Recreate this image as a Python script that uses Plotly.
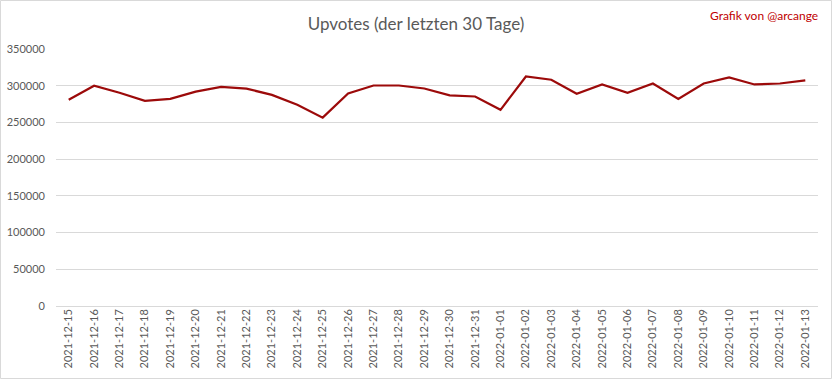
import plotly.graph_objects as go

dates = ["2021-12-15","2021-12-16","2021-12-17","2021-12-18","2021-12-19","2021-12-20",
         "2021-12-21","2021-12-22","2021-12-23","2021-12-24","2021-12-25","2021-12-26",
         "2021-12-27","2021-12-28","2021-12-29","2021-12-30","2021-12-31","2022-01-01",
         "2022-01-02","2022-01-03","2022-01-04","2022-01-05","2022-01-06","2022-01-07",
         "2022-01-08","2022-01-09","2022-01-10","2022-01-11","2022-01-12","2022-01-13"]
upvotes = [281000, 300000, 290500, 279500, 282000, 292000,
           298500, 296000, 287500, 274000, 256500, 289500,
           300300, 300300, 296200, 286800, 285300, 267200,
           312600, 308200, 289000, 301700, 290300, 303000,
           282100, 303000, 311200, 301700, 303000, 307200]
y_ticks = [0, 50000, 100000, 150000, 200000, 250000, 300000, 350000]

W, H = 832, 379
L, R, T, B = 56, 14, 49, 73
pw, ph = W - L - R, H - T - B

FONT = "Liberation Sans Narrow, Lato, sans-serif"

fig = go.Figure()
fig.add_trace(go.Scatter(x=dates, y=upvotes, mode="lines",
                         line=dict(color="#9c0a0a", width=2.2), hoverinfo="x+y"))

fig.update_layout(
    width=W, height=H,
    margin=dict(l=L, r=R, t=T, b=B, autoexpand=False),
    paper_bgcolor="white", plot_bgcolor="white",
    showlegend=False,
    font=dict(family=FONT, color="#595959", size=11),
    title=dict(text="Upvotes (der letzten 30 Tage)", x=0.5, xanchor="center",
               y=1 - 24 / H, yanchor="middle",
               font=dict(family=FONT, size=17, color="#595959")),
    xaxis=dict(type="category", tickangle=-90, showgrid=False, zeroline=False,
               showline=False, ticks="", automargin=False,
               tickfont=dict(size=11, color="#595959"),
               range=[-0.5, len(dates) - 0.5]),
    yaxis=dict(range=[0, 350000], tickvals=y_ticks, ticktext=[str(v) for v in y_ticks],
               showgrid=True, gridcolor="#d9d9d9", gridwidth=1, zeroline=True,
               zerolinecolor="#d9d9d9", zerolinewidth=1, showline=False, ticks="",
               automargin=False, ticklabelstandoff=10,
               tickfont=dict(size=11, color="#595959")),
    annotations=[dict(text="Grafik von @arcange", xref="paper", yref="paper",
                      x=(W - 12 - L) / pw, y=1 + (T - 15) / ph, xanchor="right",
                      yanchor="middle", showarrow=False,
                      font=dict(family=FONT, size=12, color="#c00000"))],
    shapes=[dict(type="rect", xref="paper", yref="paper", layer="above",
                 x0=(0.5 - L) / pw, x1=(W - 0.5 - L) / pw,
                 y0=-(B - 0.5) / ph, y1=1 + (T - 0.5) / ph,
                 line=dict(color="#d9d9d9", width=1))],
)

fig.write_html("out.html", config={"displayModeBar": False},
               post_script="document.body.style.margin='0';document.body.style.overflow='hidden';")
